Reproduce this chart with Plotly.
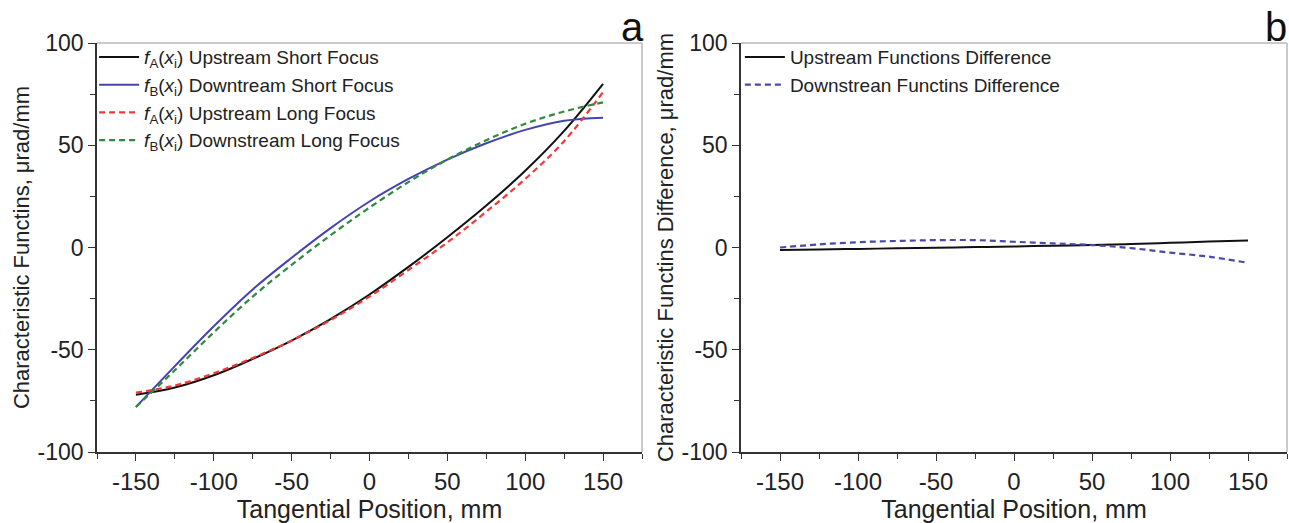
import plotly.graph_objects as go

# ---- data ----
x_pos = [-150, -125, -100, -75, -50, -25, 0, 25, 50, 75, 100, 125, 150]

fa_short = [-72, -68.5, -62.5, -54.5, -45.5, -35, -23, -9.5, 5, 20.5, 37.5, 57, 80]
fb_short = [-78, -58, -38.5, -20.5, -5, 9.5, 22.5, 33.5, 43, 51, 57.5, 62, 63.5]
fa_long = [-71, -67.5, -61.5, -54, -45.5, -35.5, -24, -11, 2.5, 17.5, 33.5, 52, 76]
fb_long = [-78, -60, -41.5, -24, -8.5, 6, 19.5, 32, 43, 52.5, 60.5, 66.5, 71]

up_diff = [-1.2, -1.0, -0.7, -0.4, -0.1, 0.2, 0.5, 0.9, 1.2, 1.7, 2.3, 2.9, 3.4]
down_diff = [0.0, 1.5, 2.6, 3.2, 3.6, 3.6, 2.8, 2.0, 1.2, -0.3, -2.5, -4.5, -7.5]

x_ticks = [-150, -100, -50, 0, 50, 100, 150]
x_ticktext = ["-150", "-100", "-50", "0", "50", "100", "150"]
y_ticks = [-100, -50, 0, 50, 100]
y_ticktext = ["-100", "-50", "0", "50", "100"]

names_a = [
    "<i>f</i><sub>A</sub>(<i>x</i><sub>i</sub>) Upstream Short Focus",
    "<i>f</i><sub>B</sub>(<i>x</i><sub>i</sub>) Downtream Short Focus",
    "<i>f</i><sub>A</sub>(<i>x</i><sub>i</sub>) Upstream Long Focus",
    "<i>f</i><sub>B</sub>(<i>x</i><sub>i</sub>) Downstream Long Focus",
]
names_b = ["Upstream Functions Difference", "Downstrean Functins Difference"]

FONT = "Liberation Sans, Arial, sans-serif"
TXT = "#222222"
BLACK = "#111111"
BLUE = "#4444b0"
RED = "#f03a3a"
GREEN = "#2e8b3c"
NAVY = "#4a4aa8"

fig = go.Figure()

fig.add_trace(go.Scatter(x=x_pos, y=fa_short, mode="lines", name=names_a[0],
                         line=dict(color=BLACK, width=2, shape="spline"),
                         xaxis="x", yaxis="y", legend="legend"))
fig.add_trace(go.Scatter(x=x_pos, y=fb_short, mode="lines", name=names_a[1],
                         line=dict(color=BLUE, width=2, shape="spline"),
                         xaxis="x", yaxis="y", legend="legend"))
fig.add_trace(go.Scatter(x=x_pos, y=fa_long, mode="lines", name=names_a[2],
                         line=dict(color=RED, width=2.2, dash="6px,4px", shape="spline"),
                         xaxis="x", yaxis="y", legend="legend"))
fig.add_trace(go.Scatter(x=x_pos, y=fb_long, mode="lines", name=names_a[3],
                         line=dict(color=GREEN, width=2.2, dash="6px,4px", shape="spline"),
                         xaxis="x", yaxis="y", legend="legend"))

fig.add_trace(go.Scatter(x=x_pos, y=up_diff, mode="lines", name=names_b[0],
                         line=dict(color=BLACK, width=2, shape="spline"),
                         xaxis="x2", yaxis="y2", legend="legend2"))
fig.add_trace(go.Scatter(x=x_pos, y=down_diff, mode="lines", name=names_b[1],
                         line=dict(color=NAVY, width=2.2, dash="6px,4px", shape="spline"),
                         xaxis="x2", yaxis="y2", legend="legend2"))

axis_common = dict(
    showline=True, linecolor="#333333", linewidth=1.5,
    ticks="outside", ticklen=7, tickwidth=1.2, tickcolor="#333333",
    showgrid=False, zeroline=False, mirror=False,
)
minor = dict(ticks="outside", ticklen=5, tickwidth=1.2, tickcolor="#333333", dtick=25, showgrid=False)

xcommon = dict(axis_common, range=[-175, 175], tickvals=x_ticks, ticktext=x_ticktext,
               minor=minor, tickfont=dict(family=FONT, size=24, color=TXT))
ycommon = dict(axis_common, range=[-100, 100], tickvals=y_ticks, ticktext=y_ticktext,
               minor=minor, tickfont=dict(family=FONT, size=23, color=TXT))

xtitle = dict(text="Tangential Position, mm", standoff=3,
              font=dict(family=FONT, size=25, color=TXT))

fig.update_layout(
    width=1289, height=523,
    margin=dict(l=0, r=0, t=43, b=71),
    paper_bgcolor="white", plot_bgcolor="white",
    font=dict(family=FONT, color=TXT),
    xaxis=dict(xcommon, domain=[97 / 1289, 642 / 1289], anchor="y", title=xtitle),
    yaxis=dict(ycommon, domain=[0, 1], anchor="x",
               title=dict(text="Characteristic Functins, μrad/mm", standoff=2,
                          font=dict(family=FONT, size=22, color=TXT))),
    xaxis2=dict(xcommon, domain=[741 / 1289, 1287 / 1289], anchor="y2", title=xtitle),
    yaxis2=dict(ycommon, domain=[0, 1], anchor="x2",
                title=dict(text="Characteristic Functins Difference, μrad/mm", standoff=2,
                           font=dict(family=FONT, size=22, color=TXT))),
    legend=dict(x=0.073, y=1.012, xanchor="left", yanchor="top",
                bgcolor="rgba(0,0,0,0)", font=dict(family=FONT, size=19, color=TXT),
                tracegroupgap=0, itemwidth=40),
    legend2=dict(x=0.574, y=1.012, xanchor="left", yanchor="top",
                 bgcolor="rgba(0,0,0,0)", font=dict(family=FONT, size=19, color=TXT),
                 tracegroupgap=0, itemwidth=40),
    showlegend=True,
)

# light grey top/right frame
for xr, yr in (("x domain", "y domain"), ("x2 domain", "y2 domain")):
    fig.add_shape(type="line", xref=xr, yref=yr, x0=0, x1=1, y0=1, y1=1,
                  line=dict(color="#b8b8b8", width=1.5))
    fig.add_shape(type="line", xref=xr, yref=yr, x0=1, x1=1, y0=0, y1=1,
                  line=dict(color="#b8b8b8", width=1.5))

fig.add_annotation(text="a", xref="paper", yref="paper", x=632 / 1289, y=1.0,
                   xanchor="center", yanchor="bottom", yshift=-8, showarrow=False,
                   font=dict(family=FONT, size=40, color="#111111"))
fig.add_annotation(text="b", xref="paper", yref="paper", x=1276 / 1289, y=1.0,
                   xanchor="center", yanchor="bottom", yshift=-8, showarrow=False,
                   font=dict(family=FONT, size=40, color="#111111"))

fig.write_html("out.html", post_script="document.body.style.margin='0';",
               config={"displayModeBar": False})
